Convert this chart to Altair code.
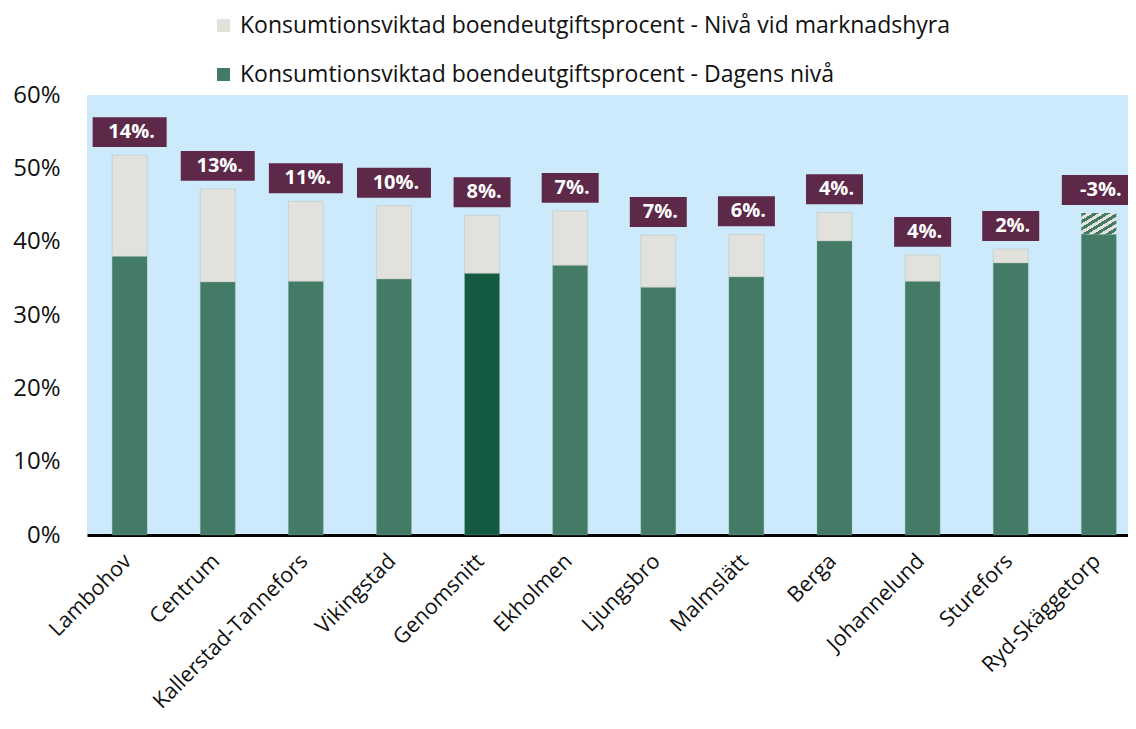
import altair as alt
import pandas as pd

omraden = ["Lambohov", "Centrum", "Kallerstad-Tannefors", "Vikingstad", "Genomsnitt",
           "Ekholmen", "Ljungsbro", "Malmslätt", "Berga", "Johannelund", "Sturefors",
           "Ryd-Skäggetorp"]
dagens = [38.0, 34.5, 34.6, 34.9, 35.7, 36.8, 33.8, 35.2, 40.1, 34.6, 37.1, 43.9]
marknad = [51.8, 47.2, 45.5, 44.9, 43.6, 44.2, 40.9, 41.0, 44.0, 38.2, 39.0, 41.0]
etiketter = ["14%.", "13%.", "11%.", "10%.", "8%.", "7%.", "7%.", "6%.", "4%.", "4%.",
             "2%.", "-3%."]

S_MARK = "Konsumtionsviktad boendeutgiftsprocent - Nivå vid marknadshyra"
S_DAG = "Konsumtionsviktad boendeutgiftsprocent - Dagens nivå"
S_SNITT = "Genomsnitt - Dagens nivå"

GREEN = "#437B66"
DARK = "#135A41"
BEIGE = "#E3E1DB"
BLUE = "#CCEAFB"
PURPLE = "#5E2849"
FONT = "Open Sans"

rows, hatch, lab = [], [], []
for o, d, m, e in zip(omraden, dagens, marknad, etiketter):
    lo, hi = min(d, m), max(d, m)
    rows.append({"omrade": o, "y0": 0, "y1": lo, "serie": S_SNITT if o == "Genomsnitt" else S_DAG})
    if m > d:
        rows.append({"omrade": o, "y0": d, "y1": m, "serie": S_MARK})
    else:
        hatch.append({"omrade": o, "y0": lo, "y1": hi})
    hw = 1.0 if len(e) >= 4 else 0.77
    path = f"M{-hw},-0.405L{hw},-0.405L{hw},0.405L{-hw},0.405Z"
    lab.append({"omrade": o, "top": hi, "txt": e, "shape": path})

df = pd.DataFrame(rows)
dh = pd.DataFrame(hatch)
dl = pd.DataFrame(lab)

xenc = alt.X("omrade:N", sort=omraden, title=None,
             scale=alt.Scale(paddingInner=0.603, paddingOuter=0.209, align=0.683),
             axis=alt.Axis(labelAngle=-45, labelFontSize=21.5, labelColor="#111111",
                           labelFont=FONT, ticks=False, domainColor="#000000",
                           domainWidth=3, labelPadding=15, labelOffset=-9, labelLimit=0))
yscale = alt.Scale(domain=[0, 60], nice=False)
yaxis = alt.Axis(values=[0, 10, 20, 30, 40, 50, 60], labelExpr="datum.value + '%'",
                 labelFontSize=24, labelFont=FONT, labelColor="#111111", ticks=False,
                 domain=False, grid=False, labelPadding=27)

bars = alt.Chart(df).mark_bar(stroke="#8fb0a2", strokeWidth=0.5, strokeOpacity=0.6).encode(
    x=xenc,
    y=alt.Y("y0:Q", scale=yscale, axis=yaxis, title=None),
    y2="y1:Q",
    color=alt.Color("serie:N",
                    scale=alt.Scale(domain=[S_MARK, S_DAG, S_SNITT], range=[BEIGE, GREEN, DARK]),
                    legend=alt.Legend(values=[S_MARK, S_DAG], title=None, orient="none",
                                      legendX=125, legendY=-81, direction="vertical",
                                      symbolType="square", symbolSize=170, symbolStrokeWidth=0,
                                      labelFontSize=23, labelFont=FONT, labelColor="#111111",
                                      labelLimit=0, rowPadding=25, symbolOffset=0, labelOffset=5)),
)

stops = []
n = 6
for k in range(n):
    a = k / n
    b = (k + 0.5) / n
    c = (k + 1) / n
    stops += [alt.GradientStop(offset=a, color=GREEN), alt.GradientStop(offset=b, color=GREEN),
              alt.GradientStop(offset=b, color=BEIGE), alt.GradientStop(offset=c, color=BEIGE)]
grad = alt.LinearGradient(gradient="linear", stops=stops, x1=0, y1=0, x2=1, y2=1)

hatched = alt.Chart(dh).mark_bar(color=grad).encode(
    x=xenc, y=alt.Y("y0:Q", scale=yscale), y2="y1:Q")

boxes = alt.Chart(dl).mark_point(filled=True, opacity=1, strokeWidth=0, size=5476,
                                 yOffset=-23, color=PURPLE).encode(
    x=xenc, y=alt.Y("top:Q", scale=yscale),
    shape=alt.Shape("shape:N", scale=None, legend=None))

texts = alt.Chart(dl).mark_text(dy=-23, color="white", fontWeight="bold", fontSize=20,
                                font=FONT, baseline="middle", align="center", dx=2).encode(
    x=xenc, y=alt.Y("top:Q", scale=yscale), text="txt:N")

chart = alt.layer(bars, hatched, boxes, texts).properties(
    width=1041, height=440,
    autosize=alt.AutoSizeParams(type="none"),
    padding={"left": 79, "top": 87, "right": 0, "bottom": 184},
    background="white",
).configure_view(fill=BLUE, stroke=None)

chart.save("out.html", embed_options={"renderer": "svg", "actions": False})
